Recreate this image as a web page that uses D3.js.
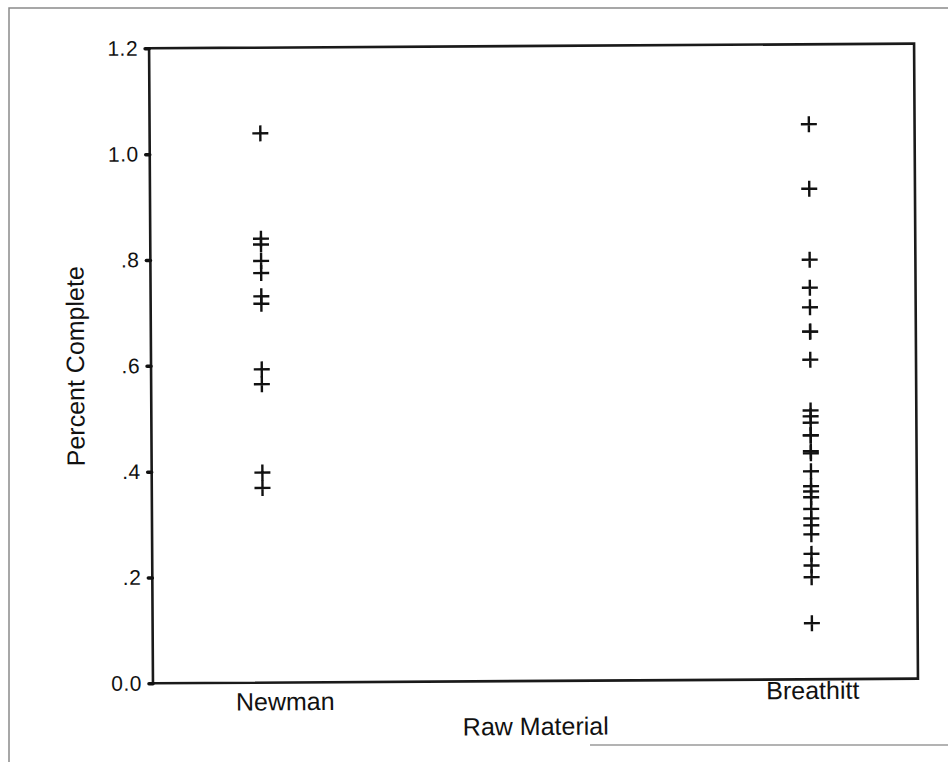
<!DOCTYPE html>
<html>
<head>
<meta charset="utf-8">
<script src="https://cdn.jsdelivr.net/npm/d3@7/dist/d3.min.js"></script>
<style>
  html, body { margin: 0; padding: 0; background: #fff; }
  svg { display: block; }
  text { font-family: "Liberation Sans", Arial, sans-serif; fill: #111; }
</style>
</head>
<body>
<svg id="chart" width="948" height="762"></svg>
<script>
// Percent complete by raw material source
const categories = ["Newman", "Breathitt"];
const newmanValues = [1.038, 0.839, 0.828, 0.797, 0.774, 0.730, 0.716, 0.592, 0.564, 0.397, 0.368];
const breathittValues = [1.049, 0.927, 0.793, 0.740, 0.703, 0.657, 0.657, 0.604, 0.508, 0.497,
  0.485, 0.461, 0.461, 0.431, 0.427, 0.393, 0.365, 0.355, 0.344, 0.322, 0.304, 0.291, 0.274,
  0.237, 0.215, 0.193, 0.106];
const yTicks = [0, 0.2, 0.4, 0.6, 0.8, 1.0, 1.2];
const yTickLabels = ["0.0", ".2", ".4", ".6", ".8", "1.0", "1.2"];

const seriesByCategory = { "Newman": newmanValues, "Breathitt": breathittValues };
const points = categories.flatMap(c => seriesByCategory[c].map(v => ({ cat: c, value: v })));

const svg = d3.select("#chart");

// outer page frame
svg.append("path")
  .attr("d", "M9,762V8H948")
  .attr("fill", "none").attr("stroke", "#8a8a8a").attr("stroke-width", 1.5);
svg.append("path")
  .attr("d", "M590,745H948")
  .attr("fill", "none").attr("stroke", "#9a9a9a").attr("stroke-width", 1.5);

const plotLeft = 151, plotRight = 916, plotTop = 46, plotBottom = 681;

const g = svg.append("g").attr("transform", "rotate(-0.35 530 360)");

const x = d3.scalePoint().domain(categories).range([plotLeft + 1, plotRight + 4]).padding(0.2);
const y = d3.scaleLinear().domain([0, 1.2]).range([plotBottom, plotTop]);

// plot frame
g.append("rect")
  .attr("x", plotLeft).attr("y", plotTop)
  .attr("width", plotRight - plotLeft).attr("height", plotBottom - plotTop)
  .attr("fill", "none").attr("stroke", "#1a1a1a").attr("stroke-width", 2.6);

// y axis
const yAxis = g.append("g")
  .attr("transform", `translate(${plotLeft},0)`)
  .call(d3.axisLeft(y).tickValues(yTicks)
    .tickFormat((d, i) => yTickLabels[i]).tickSize(4).tickPadding(7));
yAxis.select(".domain").remove();
yAxis.selectAll(".tick line").attr("stroke", "#111").attr("stroke-width", 3.5).attr("stroke-linecap", "round");
yAxis.selectAll(".tick text")
  .style("font-size", "21px").style("letter-spacing", "0.5px")
  .style("font-family", "'Liberation Sans', Arial, sans-serif")
  .attr("fill", "#111");

// x axis (category labels only)
const labelShift = { "Newman": [21, 0], "Breathitt": [0, -8] };
const xAxis = g.append("g")
  .attr("transform", `translate(0,${plotBottom})`)
  .call(d3.axisBottom(x).tickSize(0).tickPadding(10));
xAxis.select(".domain").remove();
xAxis.selectAll(".tick text")
  .style("font-size", "25px")
  .style("font-family", "'Liberation Sans', Arial, sans-serif")
  .attr("fill", "#111")
  .attr("dx", d => labelShift[d][0])
  .attr("transform", d => `translate(0,${labelShift[d][1]})`);

// axis titles
g.append("text")
  .attr("x", (plotLeft + plotRight) / 2).attr("y", 735)
  .attr("text-anchor", "middle").style("font-size", "25px")
  .text("Raw Material");
g.append("text")
  .attr("transform", `translate(84,${(plotTop + plotBottom) / 2}) rotate(-90)`)
  .attr("text-anchor", "middle").style("font-size", "25px")
  .text("Percent Complete");

// cross markers
g.append("g").selectAll("path")
  .data(points)
  .join("path")
  .attr("transform", d => `translate(${x(d.cat)},${y(d.value)})`)
  .attr("d", "M-8,0H8M0,-8V8")
  .attr("fill", "none").attr("stroke", "#111").attr("stroke-width", 2.4);
</script>
</body>
</html>
